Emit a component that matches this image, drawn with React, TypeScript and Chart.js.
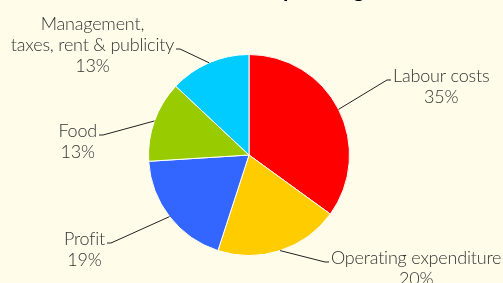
import React, { useEffect, useRef } from "react";
import { Chart, registerables } from "chart.js";

Chart.register(...registerables);

// ---- data ----
const categories = [
  "Labour costs",
  "Operating expenditure",
  "Profit",
  "Food",
  "Management, taxes, rent & publicity",
];
const labelLines = [
  ["Labour costs"],
  ["Operating expenditure"],
  ["Profit"],
  ["Food"],
  ["Management,", "taxes, rent & publicity"],
];
const shares = [35, 20, 19, 13, 13];
const sliceColors = ["#FF0000", "#FFCC00", "#3366FF", "#99CC00", "#00CCFF"];
const titleText = "Breakdown of restaurant operating costs";

// ---- layout / style (not data) ----
const BG = "#FFFCE9";
const TEXT_COLOR = "#333333";
const FONT = "300 18px Lato";
const LINE_H = 21;
// connector elbow relative to pie centre, side (+1 right / -1 left), line index where the connector attaches
const LABEL_LAYOUT = [
  { dx: 138, dy: -75, side: 1, anchor: 0 },
  { dx: 76, dy: 107, side: 1, anchor: 0 },
  { dx: -138, dy: 88, side: -1, anchor: 0 },
  { dx: -146, dy: -20, side: -1, anchor: 0 },
  { dx: -69, dy: -106, side: -1, anchor: 1 },
];

const bgPlugin = {
  id: "bgFill",
  beforeDraw(chart: any) {
    const { ctx, width, height } = chart;
    ctx.save();
    ctx.fillStyle = BG;
    ctx.fillRect(0, 0, width, height);
    ctx.restore();
  },
};

const titlePlugin = {
  id: "clippedTitle",
  afterDraw(chart: any) {
    const ctx = chart.ctx;
    ctx.save();
    ctx.font = "bold 22px Lato";
    ctx.fillStyle = "#000000";
    ctx.textBaseline = "alphabetic";
    ctx.textAlign = "left";
    const pre = ctx.measureText("Breakdown of restaurant o").width;
    ctx.fillText(titleText, 283 - pre, -3);
    ctx.restore();
  },
};

const labelPlugin = {
  id: "pieLabels",
  afterDatasetsDraw(chart: any) {
    const ctx = chart.ctx;
    const meta = chart.getDatasetMeta(0);
    ctx.save();
    ctx.font = FONT;
    try {
      (ctx as any).letterSpacing = "-0.2px";
    } catch (e) {}
    ctx.fillStyle = TEXT_COLOR;
    ctx.strokeStyle = "#222222";
    ctx.lineWidth = 1;
    ctx.textAlign = "center";
    ctx.textBaseline = "alphabetic";
    meta.data.forEach((arc: any, i: number) => {
      const p = arc.getProps(["x", "y", "startAngle", "endAngle", "outerRadius"], true);
      const mid = (p.startAngle + p.endAngle) / 2;
      const ex = p.x + Math.cos(mid) * p.outerRadius;
      const ey = p.y + Math.sin(mid) * p.outerRadius;
      const L = LABEL_LAYOUT[i];
      const bx = p.x + L.dx;
      const by = p.y + L.dy;
      const sx = bx + L.side * 4;
      ctx.beginPath();
      ctx.moveTo(ex, ey);
      ctx.lineTo(bx, by);
      ctx.lineTo(sx, by);
      ctx.stroke();
      const lines = [...labelLines[i], shares[i] + "%"];
      const blockW = Math.max(...lines.map((t) => ctx.measureText(t).width));
      const left = L.side > 0 ? sx + 2 : sx - 2 - blockW;
      const cx = left + blockW / 2;
      lines.forEach((t, k) => {
        ctx.fillText(t, cx, by + 2 + (k - L.anchor) * LINE_H);
      });
    });
    ctx.restore();
  },
};

export default function App() {
  const ref = useRef<HTMLCanvasElement | null>(null);
  useEffect(() => {
    document.body.style.margin = "0";
    document.body.style.background = BG;
    if (!ref.current) return;
    const chart = new Chart(ref.current, {
      type: "pie",
      data: {
        labels: categories,
        datasets: [
          {
            data: shares,
            backgroundColor: sliceColors,
            borderColor: "#FFFFFF",
            borderWidth: 1,
          },
        ],
      },
      options: {
        responsive: false,
        maintainAspectRatio: false,
        animation: false,
        layout: { padding: { top: 54, bottom: 27, left: 50, right: 55 } },
        plugins: {
          legend: { display: false },
          tooltip: { enabled: false },
          title: { display: false },
        },
      },
      plugins: [bgPlugin, labelPlugin, titlePlugin],
    });
    return () => chart.destroy();
  }, []);
  return (
    <div style={{ width: 503, height: 283, background: BG }}>
      <canvas ref={ref} width={503} height={283} style={{ display: "block" }} />
    </div>
  );
}
